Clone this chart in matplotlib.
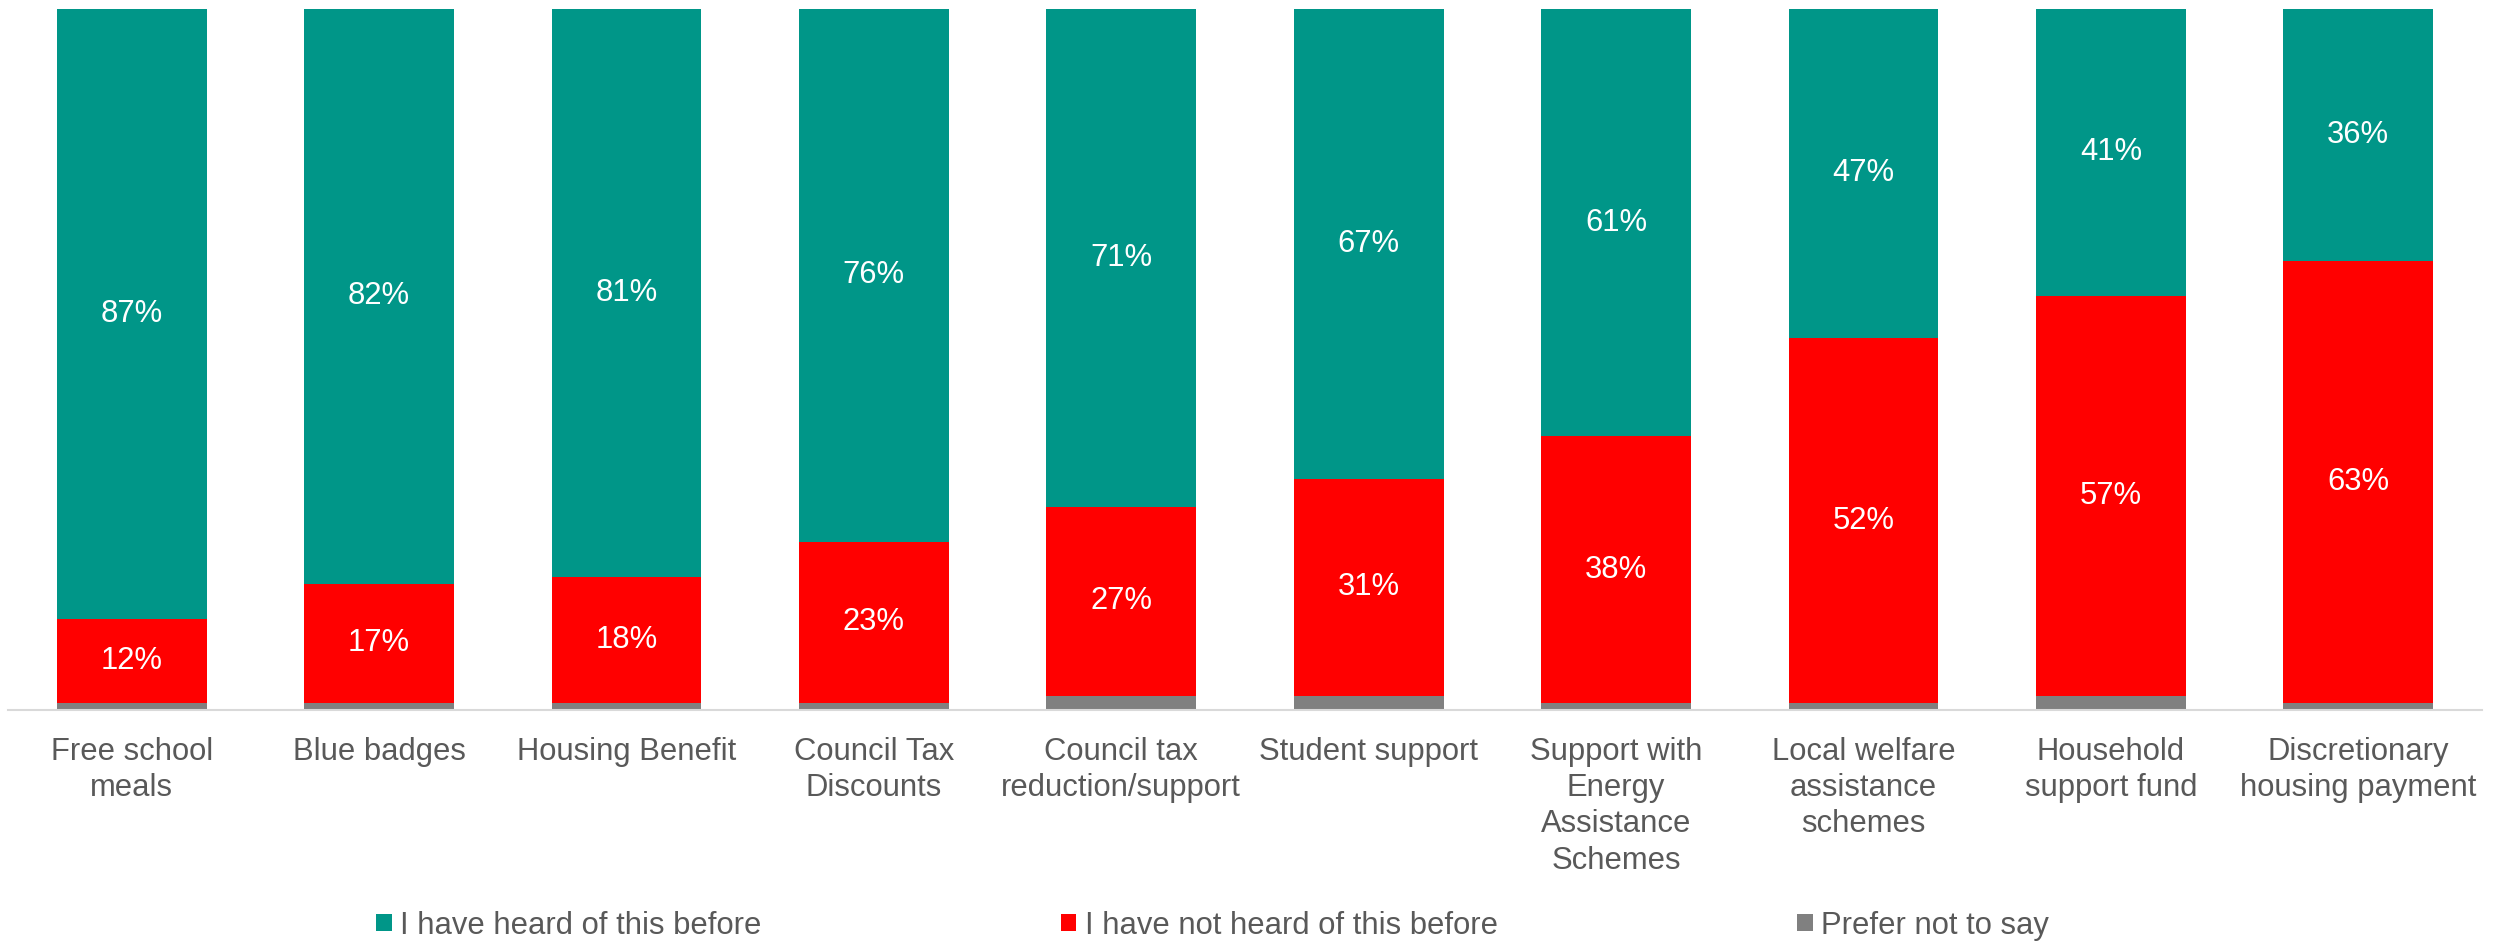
import matplotlib
matplotlib.use("Agg")
import matplotlib.pyplot as plt
from matplotlib.patches import Patch
import numpy as np

categories = [
    "Free school\nmeals",
    "Blue badges",
    "Housing Benefit",
    "Council Tax\nDiscounts",
    "Council tax\nreduction/support",
    "Student support",
    "Support with\nEnergy\nAssistance\nSchemes",
    "Local welfare\nassistance\nschemes",
    "Household\nsupport fund",
    "Discretionary\nhousing payment",
]
heard = [87, 82, 81, 76, 71, 67, 61, 47, 41, 36]
not_heard = [12, 17, 18, 23, 27, 31, 38, 52, 57, 63]
prefer_not = [100 - h - n for h, n in zip(heard, not_heard)]

series_names = ["I have heard of this before", "I have not heard of this before", "Prefer not to say"]
colors = {"heard": "#009688", "not": "#FF0000", "prefer": "#808080"}
text_grey = "#595959"

plt.rcParams["font.family"] = ["Liberation Sans", "DejaVu Sans"]

fig = plt.figure(figsize=(25.01, 9.42), dpi=100)
ax = fig.add_axes([0.0032, 0.2463, 0.9892, 0.7445])

x = np.arange(len(categories))
w = 0.606
grey = np.array(prefer_not, dtype=float)
red = np.array(not_heard, dtype=float)
teal = np.array(heard, dtype=float)

ax.bar(x, grey, w, color=colors["prefer"], linewidth=0)
ax.bar(x, red, w, bottom=grey, color=colors["not"], linewidth=0)
ax.bar(x, teal, w, bottom=grey + red, color=colors["heard"], linewidth=0)

fs = 22.3
for i in range(len(categories)):
    ax.text(x[i], grey[i] + red[i] / 2, f"{not_heard[i]}%", ha="center", va="center",
            color="white", fontsize=fs)
    ax.text(x[i], grey[i] + red[i] + teal[i] / 2, f"{heard[i]}%", ha="center", va="center",
            color="white", fontsize=fs)

ax.set_xlim(-0.5, len(categories) - 0.5)
ax.set_ylim(0, 100)
ax.set_xticks(x)
ax.set_xticklabels(categories, fontsize=fs, color=text_grey, linespacing=1.27)
ax.tick_params(axis="x", length=0, pad=19.5)
ax.set_yticks([])
for s in ["top", "left", "right"]:
    ax.spines[s].set_visible(False)
ax.spines["bottom"].set_color("#d9d9d9")
ax.spines["bottom"].set_linewidth(1.5)

handles = [Patch(facecolor=colors["heard"]), Patch(facecolor=colors["not"]),
           Patch(facecolor=colors["prefer"])]
fig.legend(handles, series_names, loc="center", bbox_to_anchor=(0.4848, 0.0175), ncol=3,
           frameon=False, fontsize=fs, labelcolor=text_grey, handlelength=0.5,
           handleheight=0.5, handletextpad=0.26, columnspacing=9.68, borderpad=0,
           borderaxespad=0)

fig.savefig("out.png", dpi=100)
